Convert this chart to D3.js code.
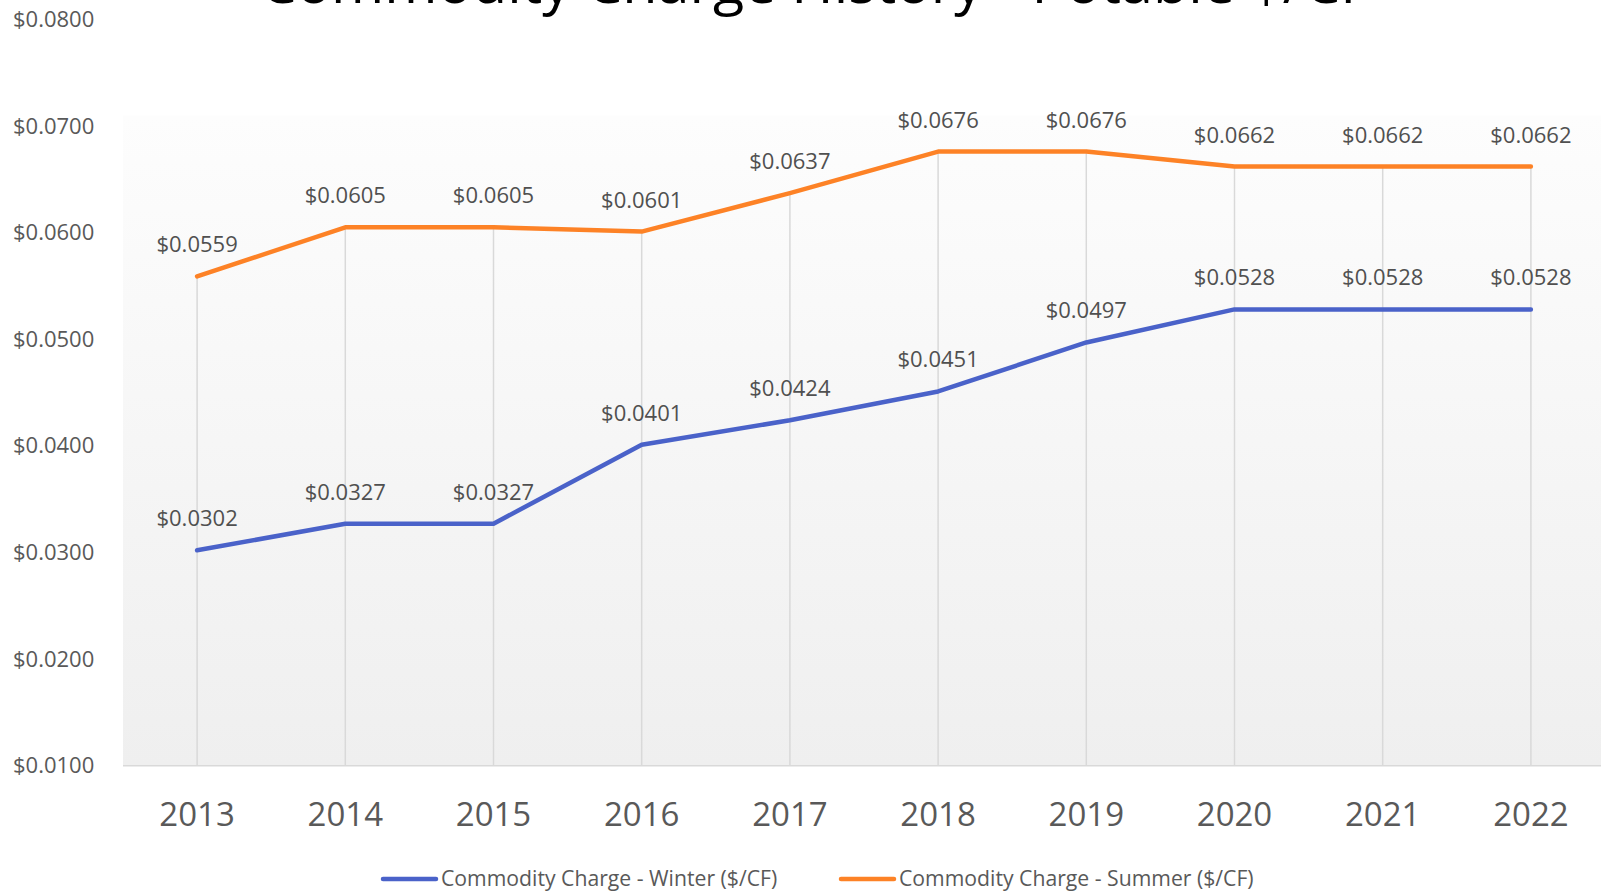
<!DOCTYPE html>
<html><head><meta charset="utf-8">
<script src="https://cdn.jsdelivr.net/npm/d3@7"></script>
<style>
html,body{margin:0;padding:0;background:#fff;overflow:hidden}
text{font-family:"Open Sans",sans-serif}
</style></head>
<body><svg id="c" width="1601" height="891"></svg>
<script>
const years = ["2013","2014","2015","2016","2017","2018","2019","2020","2021","2022"];
const winter = [0.0302,0.0327,0.0327,0.0401,0.0424,0.0451,0.0497,0.0528,0.0528,0.0528];
const summer = [0.0559,0.0605,0.0605,0.0601,0.0637,0.0676,0.0676,0.0662,0.0662,0.0662];
const yTicks = [0.01,0.02,0.03,0.04,0.05,0.06,0.07,0.08];
const seriesNames = ["Commodity Charge - Winter ($/CF)","Commodity Charge - Summer ($/CF)"];
const title = "Commodity Charge History - Potable $/CF";

const svg = d3.select("#c");
const x = d3.scaleBand().domain(years).range([123, 1605]);
const y = d3.scaleLinear().domain([0.01, 0.08]).range([765.7, 19.4]);
const fmt = v => "$" + d3.format(".4f")(v);
const cx = d => x(d) + x.bandwidth()/2;

const defs = svg.append("defs");
const g = defs.append("linearGradient").attr("id","bg").attr("x1",0).attr("x2",0).attr("y1",0).attr("y2",1);
g.append("stop").attr("offset","0%").attr("stop-color","#fdfdfd");
g.append("stop").attr("offset","100%").attr("stop-color","#efefef");

svg.append("rect").attr("x",123).attr("y",115.7).attr("width",1601-123).attr("height",765.7-115.7).attr("fill","url(#bg)");

// title (cut off at top, as in the reference)
svg.append("text").attr("x",815).attr("y",3).attr("text-anchor","middle")
  .attr("font-size",57.5).attr("fill","#000").text(title);

// drop lines
svg.append("g").selectAll("line").data(years).join("line")
  .attr("x1",cx).attr("x2",cx)
  .attr("y1",(d,i)=>y(Math.max(winter[i],summer[i]))).attr("y2",y(0.01))
  .attr("stroke","#d9d9d9").attr("stroke-width",1.5);

// baseline
svg.append("line").attr("x1",123).attr("x2",1601).attr("y1",y(0.01)).attr("y2",y(0.01))
  .attr("stroke","#d9d9d9").attr("stroke-width",1.5);

// y axis
const ya = svg.append("g").attr("transform","translate(13,0)")
  .call(d3.axisLeft(y).tickValues(yTicks).tickFormat(fmt).tickSize(0).tickPadding(0));
ya.select(".domain").remove();
ya.selectAll("text").attr("font-size",22).attr("fill","#595959").attr("font-family","Open Sans")
  .attr("text-anchor","start").attr("x",0);

// x axis
const xa = svg.append("g").attr("transform",`translate(0,${y(0.01)})`)
  .call(d3.axisBottom(x).tickSize(0).tickPadding(0));
xa.select(".domain").remove();
xa.selectAll("text").attr("font-size",33).attr("fill","#595959").attr("font-family","Open Sans").attr("dy",null).attr("y",60);

const colors = ["#4a62c9","#fd8226"];
[winter, summer].forEach((vals, k) => {
  const line = d3.line().x((d,i)=>cx(years[i])).y(d=>y(d));
  svg.append("path").datum(vals).attr("d",line).attr("fill","none")
    .attr("stroke",colors[k]).attr("stroke-width",4.5).attr("stroke-linejoin","round").attr("stroke-linecap","round");
  svg.append("g").selectAll("text").data(vals).join("text")
    .attr("x",(d,i)=>cx(years[i])).attr("y",d=>y(d)-24)
    .attr("text-anchor","middle").attr("font-size",22).attr("fill","#505050").text(fmt);
});

// legend
const leg = [{x0:383,x1:436,tx:441},{x0:841,x1:894,tx:899}];
leg.forEach((l,k)=>{
  svg.append("line").attr("x1",l.x0).attr("x2",l.x1).attr("y1",879).attr("y2",879)
    .attr("stroke",colors[k]).attr("stroke-width",4.5).attr("stroke-linecap","round");
  svg.append("text").attr("x",l.tx).attr("y",885.5).attr("font-size",21.2).attr("fill","#595959").text(seriesNames[k]);
});
</script></body></html>
